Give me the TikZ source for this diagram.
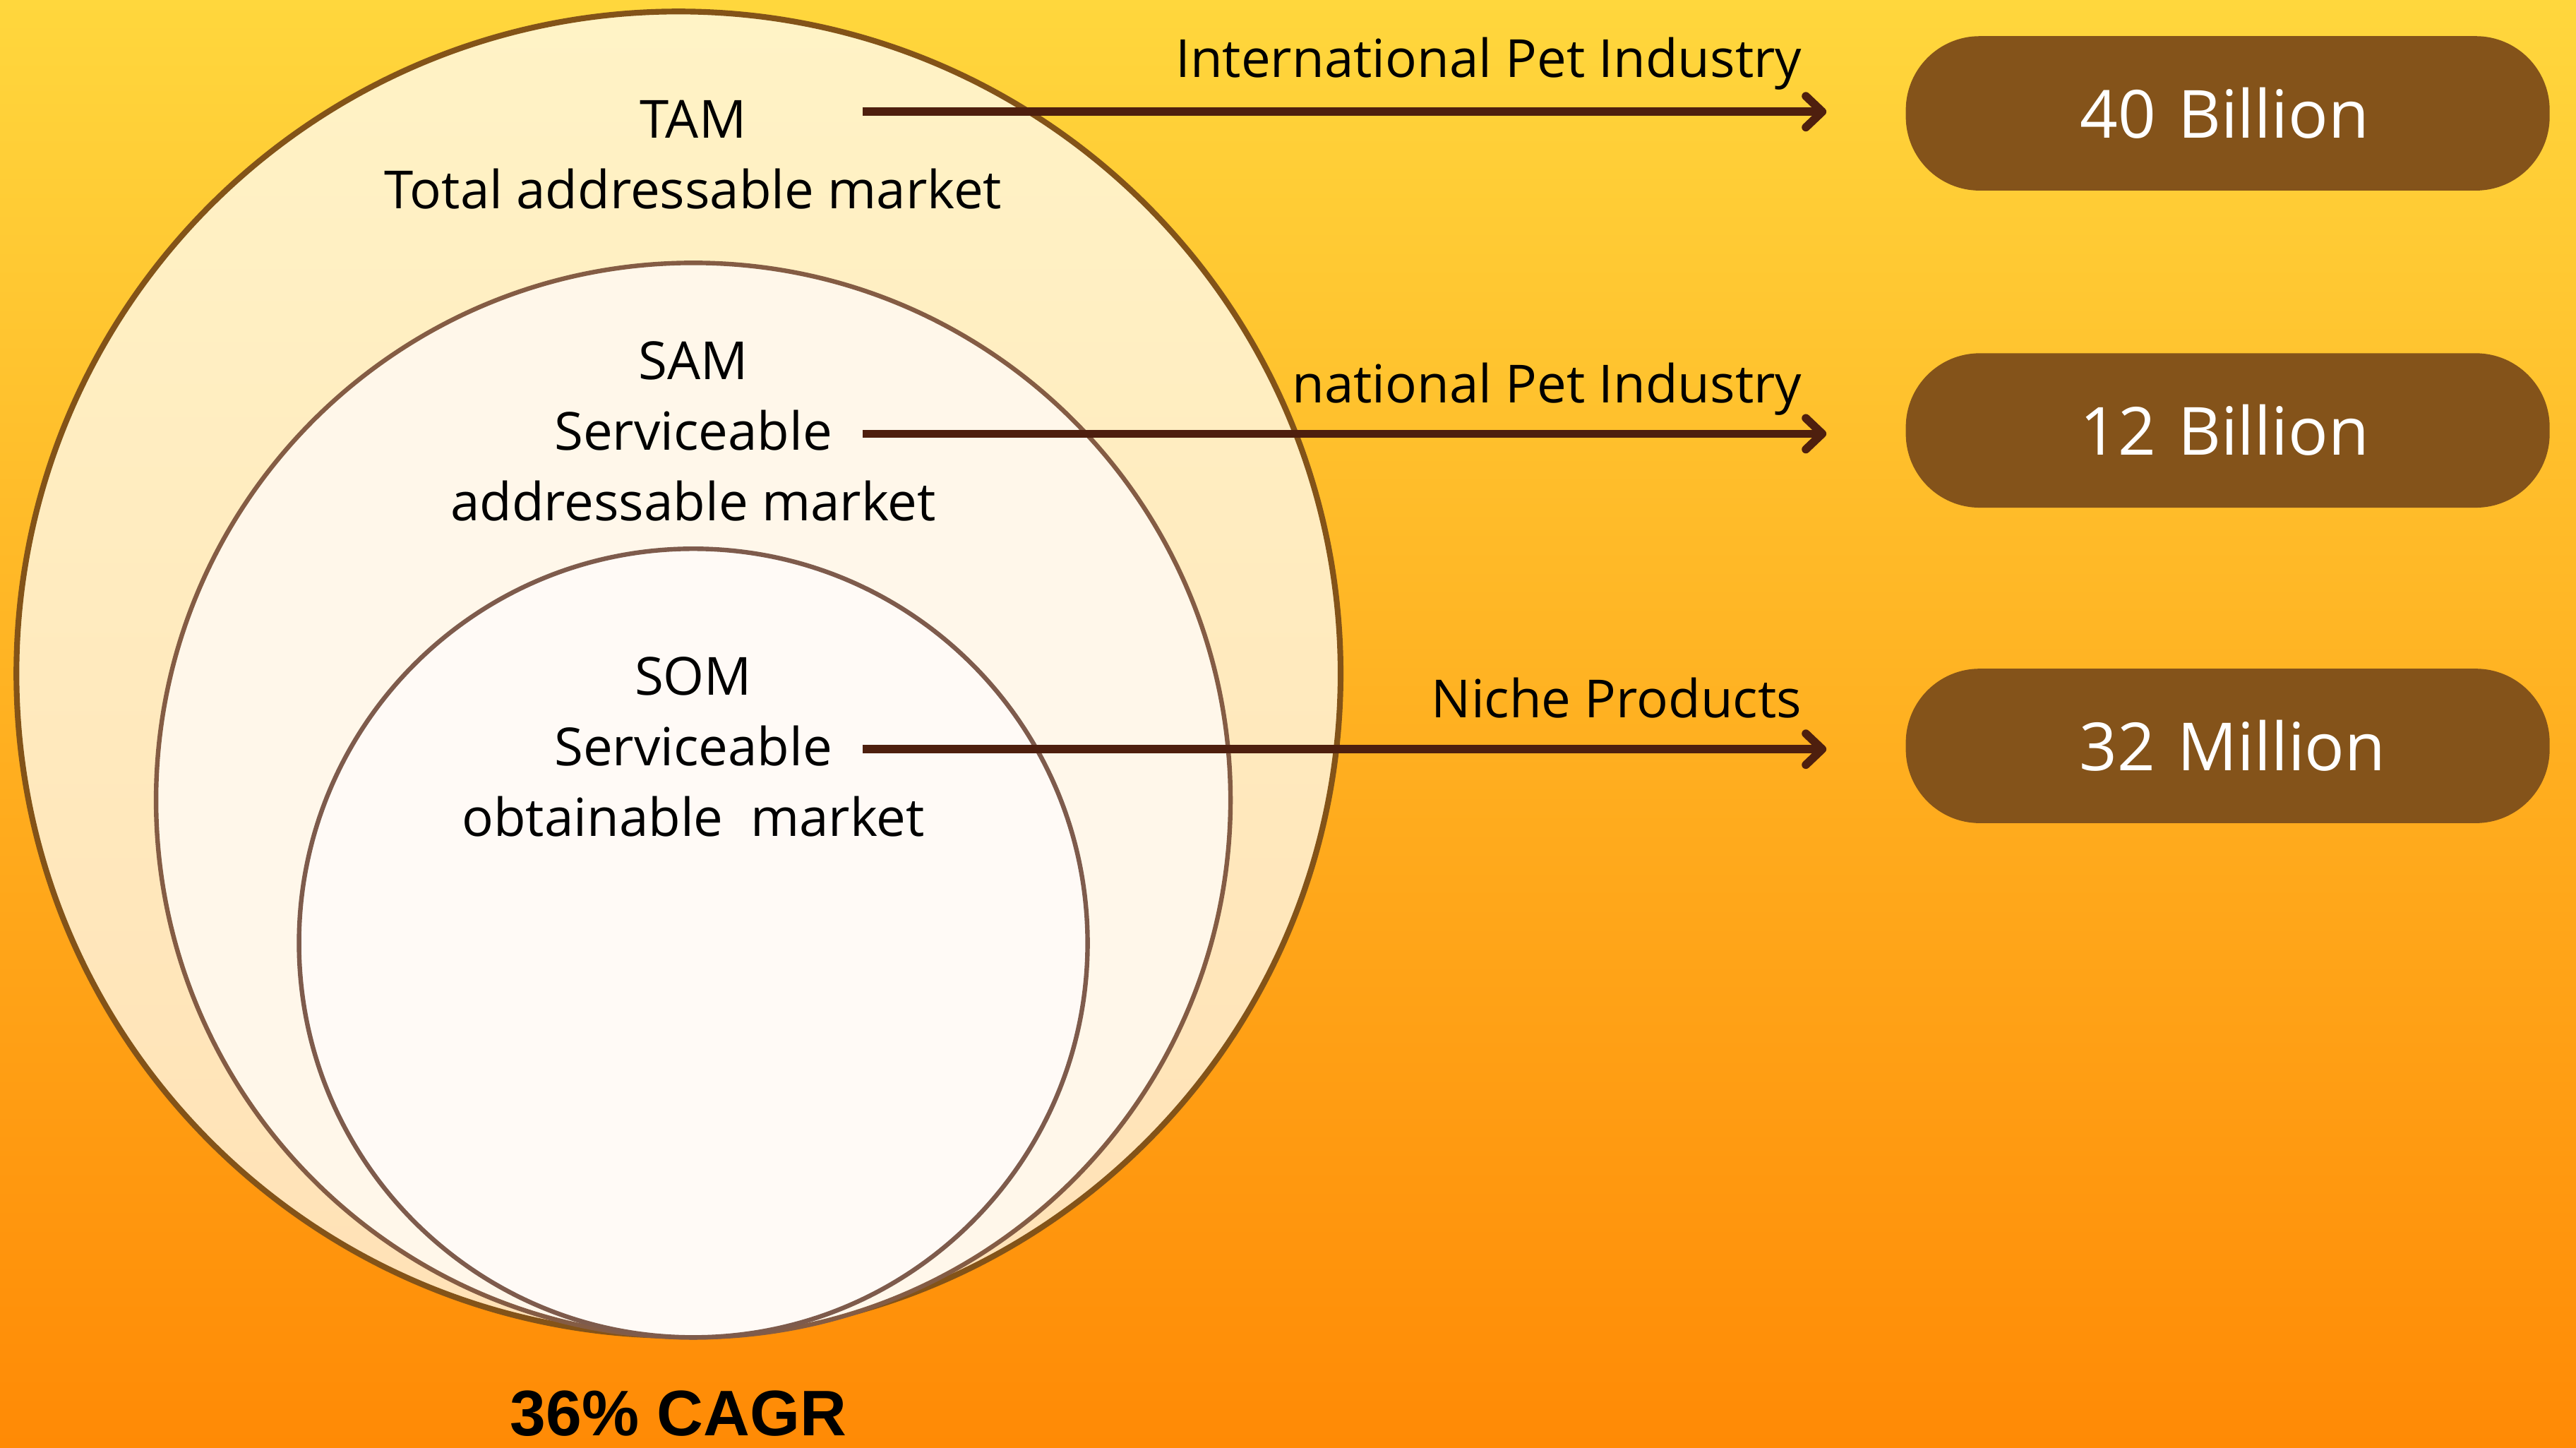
\documentclass[tikz,border=0pt]{standalone}
\usepackage{fontspec}
\setmainfont{Open Sans}
\newfontfamily\cagrfont{Liberation Sans}
\usetikzlibrary{arrows.meta}
\definecolor{bgtop}{HTML}{FFD73D}
\definecolor{bgbot}{HTML}{FF8A05}
\definecolor{tamtop}{HTML}{FFF3C6}
\definecolor{tambot}{HTML}{FFE1B6}
\definecolor{tamline}{HTML}{835318}
\definecolor{samfill}{HTML}{FFF7EA}
\definecolor{samline}{HTML}{845C44}
\definecolor{somfill}{HTML}{FFFAF6}
\definecolor{somline}{HTML}{7E5B4C}
\definecolor{arrowc}{HTML}{4E1F0E}
\definecolor{boxc}{HTML}{84531A}
\begin{document}
\begin{tikzpicture}[x=0.02cm,y=-0.02cm,
  lbl/.style={font=\fontsize{18.2}{22}\selectfont, text=black, inner sep=0pt},
  valbox/.style={fill=boxc, rounded corners=0.9cm, minimum width=7.84cm, minimum height=1.88cm,
    text=white, font=\fontsize{23}{27}\selectfont, inner sep=0pt, text width=7.84cm, align=center},
  conn/.style={draw=arrowc, line width=0.1cm,
    -{Straight Barb[length=0.2cm,width=0.38cm,line cap=round,line join=round]},
    shorten >=0.96cm}]
% background
\useasboundingbox (0,0) rectangle (1568,881);
\shade[top color=bgtop, bottom color=bgbot] (0,0) rectangle (1568,881);
% circles
\draw[line width=0.07cm, draw=tamline, top color=tamtop, bottom color=tambot] (413,410) circle[radius=403];
\draw[line width=0.055cm, draw=samline, fill=samfill] (422,487) circle[radius=327];
\draw[line width=0.055cm, draw=somline, fill=somfill] (422,574) circle[radius=240];
% circle texts
\node[lbl, anchor=base] (tam1) at (422,84) {TAM};
\node[lbl, anchor=base] (tam2) at (422,127) {Total addressable market};
\node[lbl, anchor=base] (sam1) at (422,231) {SAM};
\node[lbl, anchor=base] (sam2) at (422,274) {Serviceable};
\node[lbl, anchor=base] (sam3) at (422,317) {addressable market};
\node[lbl, anchor=base] (som1) at (422,423) {SOM};
\node[lbl, anchor=base] (som2) at (422,466) {Serviceable};
\node[lbl, anchor=base] (som3) at (422,509) {obtainable\ \ market};
% boxes
\node[valbox] (b1) at (1356,69) {40 Billion\hspace*{0.08cm}};
\node[valbox] (b2) at (1356,262) {12 Billion\hspace*{0.08cm}};
\node[valbox] (b3) at (1356,454) {\hspace*{0.12cm}32 Million};
% arrow labels
\node[lbl, anchor=base east] (l1) at (1097,47) {International Pet Industry};
\node[lbl, anchor=base east] (l2) at (1097,245) {national Pet Industry};
\node[lbl, anchor=base east] (l3) at (1097,437) {Niche Products};
% arrows
\coordinate (s1) at (525,68);
\coordinate (s2) at (525,264);
\coordinate (s3) at (525,456);
\draw[conn] (s1) -- (s1 -| b1.west);
\draw[conn] (s2) -- (s2 -| b2.west);
\draw[conn] (s3) -- (s3 -| b3.west);
% CAGR
\node[inner sep=0pt, anchor=base, font=\cagrfont\bfseries\fontsize{22.3}{26}\selectfont] (cagr) at (413,874) {36\% CAGR};
\end{tikzpicture}
\end{document}
